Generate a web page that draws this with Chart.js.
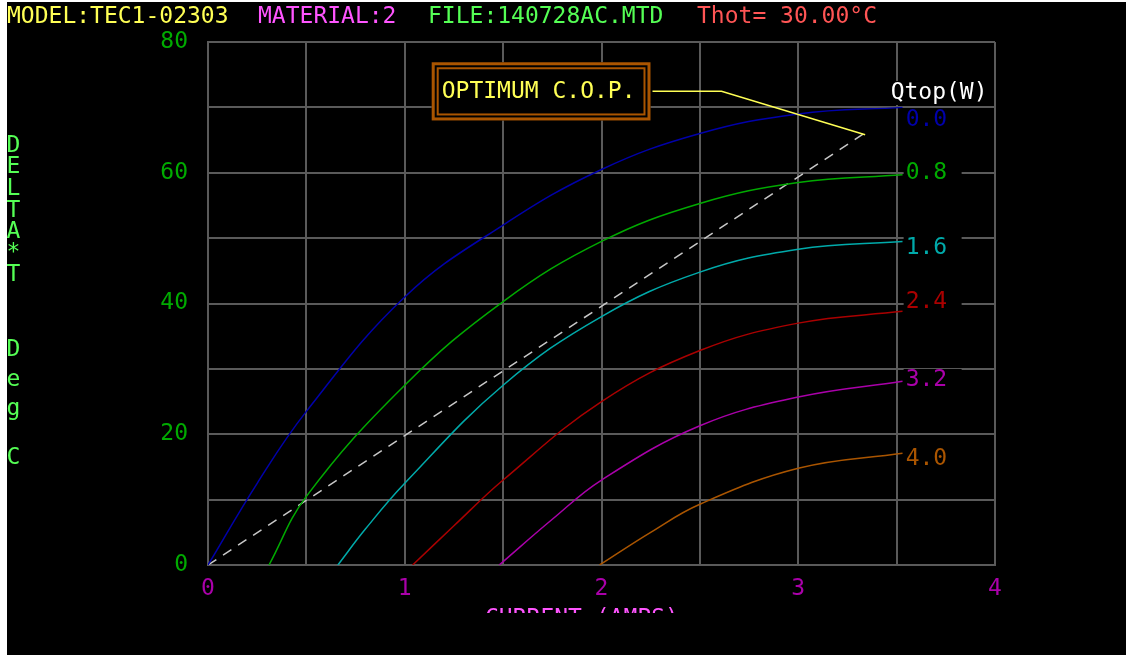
<!DOCTYPE html>
<html lang="en">
<head>
<meta charset="UTF-8">
<title>TEC1-02303 Delta T vs Current</title>
<style>
  body { margin: 0; background: #fff; }
  #wrap { position: absolute; left: 7px; top: 2px; width: 1119px; height: 653px; }
</style>
</head>
<body>
<div id="wrap"><canvas id="tecChart"></canvas></div>
<script src="https://cdn.jsdelivr.net/npm/chart.js"></script>
<script>
// Delta T (deg C) against current (A), one curve per heat load Qtop (W)
var qLabels = ['0.0', '0.8', '1.6', '2.4', '3.2', '4.0'];
var qColors = ['#0000aa', '#00aa00', '#00aaaa', '#aa0000', '#aa00aa', '#aa5500'];

var amps00 = [0, 0.25, 0.5, 1.0, 1.5, 2.0, 2.5, 3.0, 3.53];
var dt00   = [0, 12.5, 23.5, 41, 52, 60.5, 66, 69, 70];
var amps08 = [0.31, 0.5, 1.0, 1.5, 2.0, 2.5, 3.0, 3.53];
var dt08   = [0, 10.5, 27.5, 40.3, 49.5, 55.3, 58.5, 59.7];
var amps16 = [0.66, 0.8, 1.0, 1.5, 2.0, 2.5, 3.0, 3.53];
var dt16   = [0, 5.5, 12.5, 27.5, 38, 44.8, 48.3, 49.5];
var amps24 = [1.04, 1.25, 1.5, 2.0, 2.5, 3.0, 3.53];
var dt24   = [0, 6, 13, 25, 32.8, 37, 38.8];
var amps32 = [1.48, 1.75, 2.0, 2.5, 3.0, 3.53];
var dt32   = [0, 7, 13, 21.3, 25.7, 28.1];
var amps40 = [1.99, 2.25, 2.5, 3.0, 3.53];
var dt40   = [0, 5, 9.3, 14.8, 17.1];

// where each Qtop value is written, in Delta T units
var labelDT = [68.0, 59.9, 48.5, 40.2, 28.3, 16.2];

// optimum COP line
var copAmps = [0, 3.35];
var copDT   = [0, 66.3];

var headerText   = ['MODEL:TEC1-02303', 'MATERIAL:2', 'FILE:140728AC.MTD', 'Thot= 30.00\u00B0C'];
var headerColors = ['#ffff55', '#ff55ff', '#55ff55', '#ff5555'];
var yTitle = ['D', 'E', 'L', 'T', 'A', '*', 'T', 'D', 'e', 'g', 'C'];
var yTitleAt = [146, 167, 189, 211, 232, 253, 275, 350, 380, 409, 458];

function pts(xs, ys) {
    return xs.map(function(x, i) { return { x: x, y: ys[i] }; });
}

var series = [
    pts(amps00, dt00), pts(amps08, dt08), pts(amps16, dt16),
    pts(amps24, dt24), pts(amps32, dt32), pts(amps40, dt40)
];

var datasets = series.map(function(d, i) {
    return {
        label: qLabels[i],
        data: d,
        borderColor: qColors[i],
        borderWidth: 1.5,
        pointRadius: 0,
        tension: 0.4,
        fill: false
    };
});
datasets.push({
    label: 'COP',
    data: pts(copAmps, copDT),
    borderColor: '#c8c8c8',
    borderWidth: 1.5,
    borderDash: [10, 8],
    pointRadius: 0,
    fill: false
});

var dosFont = "23px 'DejaVu Sans Mono', monospace";
var gridGray = '#5a5a5a';

var extras = {
    id: 'extras',
    beforeDraw: function(chart) {
        var ctx = chart.ctx;
        ctx.save();
        ctx.fillStyle = '#000';
        ctx.fillRect(0, 0, chart.width, chart.height);
        ctx.restore();
    },
    afterDraw: function(chart) {
        var ctx = chart.ctx, xs = chart.scales.x, ys = chart.scales.y;
        ctx.save();
        ctx.font = dosFont;

        // header line
        var hx = [0, 251, 421, 690];
        ctx.textBaseline = 'alphabetic';
        headerText.forEach(function(t, i) {
            ctx.fillStyle = headerColors[i];
            ctx.fillText(t, hx[i], 21);
        });

        // vertical y title
        ctx.textAlign = 'center';
        ctx.textBaseline = 'middle';
        ctx.fillStyle = '#55ff55';
        yTitle.forEach(function(ch, i) {
            ctx.fillText(ch, 6.5, yTitleAt[i] - 2);
        });

        // x title, cut off at the bottom like the original
        ctx.save();
        ctx.beginPath();
        ctx.rect(0, 0, chart.width, 611);
        ctx.clip();
        ctx.textAlign = 'left';
        ctx.textBaseline = 'alphabetic';
        ctx.fillStyle = '#ff55ff';
        ctx.fillText('CURRENT (AMPS)', 478, 623);
        ctx.restore();

        // Qtop labels
        ctx.textAlign = 'left';
        ctx.textBaseline = 'middle';
        var lx = xs.getPixelForValue(3.5) + 9;
        var qy = ys.getPixelForValue(72.2);
        ctx.fillStyle = '#000';
        ctx.fillRect(lx - 12, qy - 12, 96, 24);
        ctx.fillStyle = '#ffffff';
        ctx.fillText('Qtop(W)', lx - 15, qy);
        qLabels.forEach(function(t, i) {
            var y = ys.getPixelForValue(labelDT[i]);
            ctx.fillStyle = '#000';
            ctx.fillRect(lx - 2, y - 11, 58, 22);
            ctx.fillStyle = qColors[i];
            ctx.fillText(t, lx, y);
        });

        // OPTIMUM C.O.P. box and pointer
        var bl = xs.getPixelForValue(1.137), br = xs.getPixelForValue(2.249);
        var bt = ys.getPixelForValue(76.9), bb = ys.getPixelForValue(68.0);
        ctx.fillStyle = '#000';
        ctx.fillRect(bl, bt, br - bl, bb - bt);
        ctx.strokeStyle = '#aa5500';
        ctx.lineWidth = 3;
        ctx.strokeRect(bl + 1.5, bt + 1.5, br - bl - 3, bb - bt - 3);
        ctx.lineWidth = 2;
        ctx.strokeRect(bl + 6, bt + 6, br - bl - 12, bb - bt - 12);
        var by = (bt + bb) / 2;
        ctx.fillStyle = '#ffff55';
        ctx.fillText('OPTIMUM C.O.P.', bl + 10, by + 1);

        ctx.strokeStyle = '#ffff55';
        ctx.lineWidth = 1.5;
        ctx.beginPath();
        ctx.moveTo(br + 2, by);
        ctx.lineTo(xs.getPixelForValue(2.61), by);
        ctx.lineTo(xs.getPixelForValue(3.34), ys.getPixelForValue(65.8));
        ctx.stroke();

        ctx.restore();
    }
};

new Chart(document.getElementById('tecChart'), {
    type: 'line',
    data: { datasets: datasets },
    options: {
        responsive: true,
        maintainAspectRatio: false,
        animation: false,
        layout: { padding: { left: 0, top: 40, right: 131, bottom: 0 } },
        plugins: { legend: { display: false }, tooltip: { enabled: false } },
        scales: {
            x: {
                type: 'linear',
                min: 0, max: 4,
                afterFit: function(s) { s.height = 90; },
                grid: { color: gridGray, lineWidth: 2, drawTicks: false },
                border: { color: gridGray, width: 2 },
                ticks: {
                    stepSize: 0.5,
                    autoSkip: false,
                    maxRotation: 0,
                    padding: 10,
                    color: '#aa00aa',
                    font: { family: "'DejaVu Sans Mono', monospace", size: 23 },
                    callback: function(v) { return Number.isInteger(v) ? v : ''; }
                }
            },
            y: {
                min: 0, max: 80,
                afterFit: function(s) { s.width = 201; },
                grid: { color: gridGray, lineWidth: 2, drawTicks: false },
                border: { color: gridGray, width: 2 },
                ticks: {
                    stepSize: 10,
                    autoSkip: false,
                    padding: 20,
                    color: '#00aa00',
                    font: { family: "'DejaVu Sans Mono', monospace", size: 23 },
                    callback: function(v) { return v % 20 === 0 ? v : ''; }
                }
            }
        }
    },
    plugins: [extras]
});
</script>
</body>
</html>
